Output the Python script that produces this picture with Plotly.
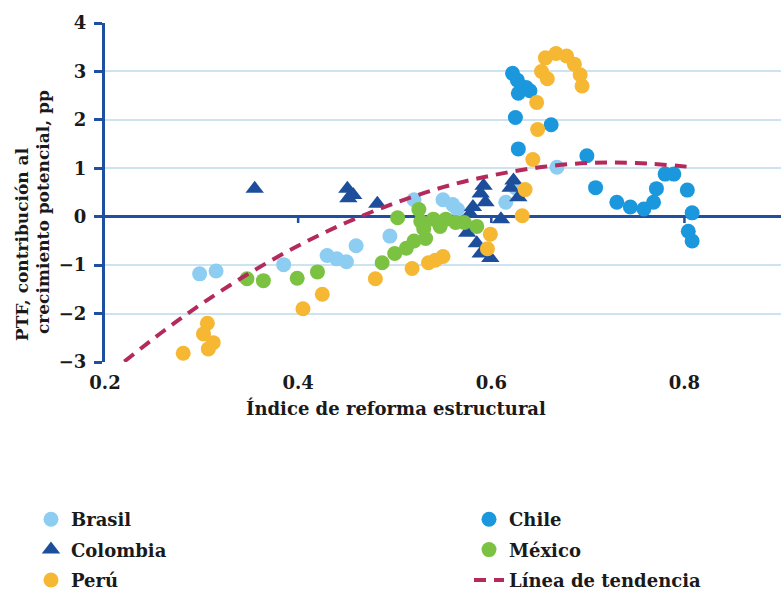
import plotly.graph_objects as go

# Índice de reforma estructural (x) vs. contribución de la PTF al crecimiento potencial (y)
brasil_x = [0.298, 0.315, 0.385, 0.430, 0.440, 0.450, 0.460, 0.495, 0.520, 0.550, 0.560, 0.565, 0.615, 0.625, 0.668]
brasil_y = [-1.18, -1.12, -0.99, -0.80, -0.87, -0.93, -0.60, -0.40, 0.35, 0.35, 0.25, 0.15, 0.30, 0.60, 1.02]

chile_x = [0.622, 0.627, 0.636, 0.628, 0.640, 0.625, 0.662, 0.628, 0.699, 0.708, 0.730,
           0.744, 0.758, 0.768, 0.771, 0.780, 0.789, 0.803, 0.808, 0.804, 0.808]
chile_y = [2.96, 2.82, 2.67, 2.55, 2.60, 2.05, 1.90, 1.40, 1.26, 0.60, 0.30,
           0.20, 0.16, 0.30, 0.58, 0.88, 0.88, 0.55, 0.08, -0.30, -0.50]

colombia_x = [0.355, 0.451, 0.452, 0.457, 0.482, 0.578, 0.581, 0.589, 0.592, 0.594,
              0.575, 0.585, 0.589, 0.599, 0.610, 0.620, 0.623, 0.628]
colombia_y = [0.58, 0.58, 0.38, 0.45, 0.27, 0.06, 0.20, 0.48, 0.64, 0.30,
              -0.33, -0.55, -0.76, -0.85, -0.05, 0.60, 0.75, 0.40]

mexico_x = [0.347, 0.364, 0.399, 0.420, 0.487, 0.500, 0.503, 0.512, 0.520, 0.525,
            0.527, 0.530, 0.532, 0.540, 0.547, 0.553, 0.563, 0.572, 0.585]
mexico_y = [-1.28, -1.32, -1.27, -1.14, -0.95, -0.76, -0.02, -0.65, -0.50, 0.15,
            -0.10, -0.25, -0.45, -0.05, -0.20, -0.05, -0.12, -0.12, -0.20]

peru_x = [0.281, 0.306, 0.302, 0.312, 0.307, 0.405, 0.425, 0.480, 0.518, 0.535, 0.542,
          0.550, 0.596, 0.599, 0.632, 0.635, 0.643, 0.648, 0.647, 0.652, 0.656,
          0.667, 0.678, 0.686, 0.692, 0.694, 0.658]
peru_y = [-2.82, -2.20, -2.42, -2.60, -2.73, -1.90, -1.60, -1.28, -1.07, -0.95, -0.90,
          -0.82, -0.66, -0.36, 0.02, 0.56, 1.18, 1.80, 2.36, 3.00, 3.28,
          3.37, 3.32, 3.15, 2.93, 2.70, 2.85]

tendencia_x = [0.22, 0.26, 0.30, 0.35, 0.40, 0.45, 0.50, 0.55, 0.60, 0.65, 0.70, 0.75, 0.81]
tendencia_y = [-2.99, -2.37, -1.80, -1.16, -0.60, -0.12, 0.28, 0.61, 0.85, 1.02, 1.11, 1.11, 1.02]

x_ticks = [0.2, 0.4, 0.6, 0.8]
y_ticks = [-3, -2, -1, 0, 1, 2, 3, 4]

AXIS_BLUE = "#1F4FA0"
FONT = "DejaVu Serif"

fig = go.Figure()

series = [
    ("Brasil", brasil_x, brasil_y, "#8ECDF2", "circle", "legend"),
    ("Chile", chile_x, chile_y, "#1B98DD", "circle", "legend2"),
    ("Colombia", colombia_x, colombia_y, "#1D4E9B", "triangle-up", "legend"),
    ("México", mexico_x, mexico_y, "#7CC242", "circle", "legend2"),
    ("Perú", peru_x, peru_y, "#F6B732", "circle", "legend"),
]
for name, xs, ys, color, symbol, leg in series:
    fig.add_trace(go.Scatter(
        x=xs, y=ys, mode="markers", name=name, legend=leg, legendgroup=name,
        marker=dict(color=color, symbol=symbol, size=15 if symbol == "circle" else 16,
                    line=dict(width=0)),
        cliponaxis=False,
    ))

fig.add_trace(go.Scatter(
    x=tendencia_x, y=tendencia_y, mode="lines", name="Línea de tendencia",
    legend="legend2", legendgroup="tendencia",
    line=dict(color="#B52A5C", width=4, dash="12px,8px", shape="spline"),
))

# small tick marks hanging below the zero line
for v in x_ticks[1:]:
    fig.add_shape(type="line", xref="x", yref="y", x0=v, x1=v, y0=0, y1=-0.13,
                  line=dict(color=AXIS_BLUE, width=2.5), layer="below")

legend_font = dict(family=FONT, size=18, color="#1a1a1a", weight="bold")

fig.update_layout(
    width=781, height=592,
    margin=dict(l=105, r=0, t=23, b=230, autoexpand=False),
    paper_bgcolor="white", plot_bgcolor="white",
    font=dict(family=FONT, color="#1a1a1a"),
    xaxis=dict(
        range=[0.2, 0.9], tickvals=x_ticks, ticktext=[f"{v:.1f}" for v in x_ticks],
        showgrid=False, zeroline=False, showline=False, ticks="",
        tickfont=dict(family=FONT, size=18, weight="bold", color="#1a1a1a"),
        ticklabelstandoff=8,
    ),
    yaxis=dict(
        range=[-3, 4], tickvals=y_ticks,
        showgrid=True, gridcolor="#CDE4F0", gridwidth=2,
        zeroline=True, zerolinecolor=AXIS_BLUE, zerolinewidth=3,
        showline=True, linecolor=AXIS_BLUE, linewidth=3,
        ticks="outside", ticklen=8, tickwidth=3, tickcolor=AXIS_BLUE,
        tickfont=dict(family=FONT, size=18, weight="bold", color="#1a1a1a"),
        ticklabelstandoff=4,
    ),
    showlegend=True,
    legend=dict(
        x=(31 - 105) / 676, xanchor="left", y=(362 - 501) / 339, yanchor="top",
        font=legend_font, traceorder="grouped", tracegroupgap=4,
        itemwidth=30, bgcolor="rgba(0,0,0,0)",
    ),
    legend2=dict(
        x=(469 - 105) / 676, xanchor="left", y=(362 - 501) / 339, yanchor="top",
        font=legend_font, traceorder="grouped", tracegroupgap=4,
        itemwidth=30, bgcolor="rgba(0,0,0,0)",
    ),
    annotations=[
        dict(text="<b>Índice de reforma estructural</b>", xref="paper", yref="paper",
             x=(396 - 105) / 676, y=(362 - 408) / 339, xanchor="center", yanchor="middle",
             showarrow=False, font=dict(family=FONT, size=18, color="#1a1a1a")),
        dict(text="<b>PTF, contribución al</b>", xref="paper", yref="paper",
             x=(22 - 105) / 676, y=(362 - 244) / 339, xanchor="center", yanchor="middle",
             textangle=-90, showarrow=False, font=dict(family=FONT, size=17, color="#1a1a1a")),
        dict(text="<b>crecimiento potencial, pp</b>", xref="paper", yref="paper",
             x=(43 - 105) / 676, y=(362 - 212) / 339, xanchor="center", yanchor="middle",
             textangle=-90, showarrow=False, font=dict(family=FONT, size=17, color="#1a1a1a")),
    ],
)

fig.write_html("out.html")
